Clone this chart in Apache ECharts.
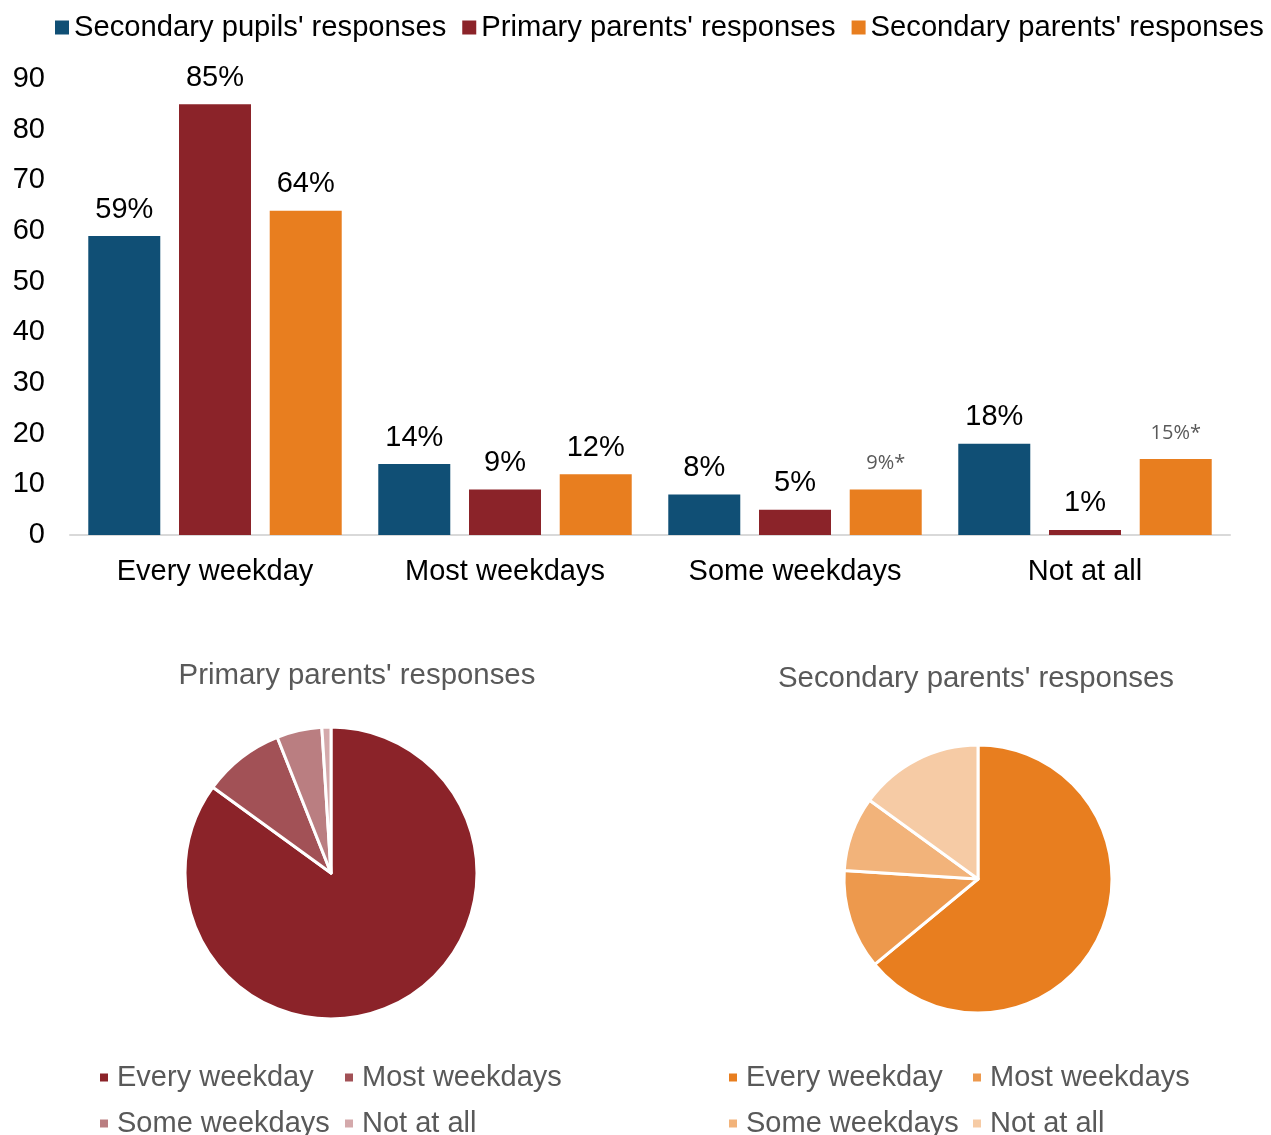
<!DOCTYPE html>
<html>
<head>
<meta charset="utf-8">
<script src="https://cdn.jsdelivr.net/npm/echarts@6/dist/echarts.min.js"></script>
<style>html,body{margin:0;padding:0;background:#fff}#c{width:1271px;height:1135px}</style>
</head>
<body>
<div id="c"></div>
<script>
const categories = ['Every weekday', 'Most weekdays', 'Some weekdays', 'Not at all'];
const seriesNames = ["Secondary pupils' responses", "Primary parents' responses", "Secondary parents' responses"];
const secondaryPupils = [59, 14, 8, 18];
const primaryParents = [85, 9, 5, 1];
const secondaryParents = [64, 12, 9, 15];
const secondaryParentsFlag = [false, false, true, true];
const yTicks = [0, 10, 20, 30, 40, 50, 60, 70, 80, 90];

const barColors = ['#104F75', '#8B2329', '#E87E1F'];
const primaryPieColors = ['#8B2329', '#A25156', '#BA7E81', '#D4A9AB'];
const secondaryPieColors = ['#E87E1F', '#ED994D', '#F2B37A', '#F6CBA5'];

const FONT = '"Liberation Sans", Arial, sans-serif';
const chart = echarts.init(document.getElementById('c'));

function barSeries(name, values, color, flags) {
  return {
    name: name, type: 'bar', barWidth: 72, barGap: '26%',
    itemStyle: { color: color },
    data: values.map((v, i) => {
      const d = { value: v };
      if (flags && flags[i]) {
        d.label = { color: '#595959', fontSize: 20, fontFamily: '"Open Sans", sans-serif', formatter: v + '%*', distance: 16 };
      }
      return d;
    }),
    label: { show: true, position: 'top', distance: 12, color: '#000', fontSize: 29, fontFamily: FONT, formatter: p => p.value + '%' }
  };
}

function pieLegends(colors, xs, rows) {
  return categories.map((c, i) => ({
    left: xs[i % 2], top: rows[Math.floor(i / 2)], padding: 0,
    icon: 'rect', itemWidth: 10, itemHeight: 10, itemGap: 0,
    textStyle: { color: '#595959', fontSize: 29, fontFamily: FONT, padding: [0, 0, 0, 3] },
    data: [{ name: c, itemStyle: { color: colors[i] } }],
    selectedMode: false
  }));
}

chart.setOption({
  animation: false,
  title: [
    { text: "Primary parents' responses", left: 357, top: 676, padding: 0, textAlign: 'center', textVerticalAlign: 'middle',
      textStyle: { color: '#595959', fontSize: 29.4, fontWeight: 'normal', fontFamily: FONT } },
    { text: "Secondary parents' responses", left: 976, top: 679, padding: 0, textAlign: 'center', textVerticalAlign: 'middle',
      textStyle: { color: '#595959', fontSize: 29.4, fontWeight: 'normal', fontFamily: FONT } }
  ],
  legend: [
    { left: 55, top: 13, width: 1216, padding: 0, icon: 'rect', itemWidth: 14, itemHeight: 14, itemGap: 16,
      textStyle: { color: '#000', fontSize: 29.2, fontFamily: FONT },
      data: seriesNames.map((n, i) => ({ name: n, itemStyle: { color: barColors[i] } })) }
  ].concat(pieLegends(primaryPieColors, [98, 343], [1063, 1109]))
   .concat(pieLegends(secondaryPieColors, [727, 971], [1063, 1109])),
  grid: { left: 70, right: 41, top: 79, height: 456 },
  xAxis: {
    type: 'category', data: categories,
    axisLine: { lineStyle: { color: '#D9D9D9', width: 2 } },
    axisTick: { show: false },
    axisLabel: { color: '#000', fontSize: 29, fontFamily: FONT, margin: 22 }
  },
  yAxis: {
    type: 'value', min: yTicks[0], max: yTicks[yTicks.length - 1], interval: 10,
    splitLine: { show: false }, axisLine: { show: false }, axisTick: { show: false },
    axisLabel: { color: '#000', fontSize: 29, fontFamily: FONT, margin: 25 }
  },
  series: [
    barSeries(seriesNames[0], secondaryPupils, barColors[0]),
    barSeries(seriesNames[1], primaryParents, barColors[1]),
    barSeries(seriesNames[2], secondaryParents, barColors[2], secondaryParentsFlag),
    {
      type: 'pie', name: "Primary parents' responses", center: [331, 873], radius: 146,
      startAngle: 90, clockwise: true, label: { show: false }, labelLine: { show: false },
      itemStyle: { borderColor: '#fff', borderWidth: 3 },
      data: categories.map((c, i) => ({ name: c, value: primaryParents[i], itemStyle: { color: primaryPieColors[i] } }))
    },
    {
      type: 'pie', name: "Secondary parents' responses", center: [978, 879], radius: 134,
      startAngle: 90, clockwise: true, label: { show: false }, labelLine: { show: false },
      itemStyle: { borderColor: '#fff', borderWidth: 3 },
      data: categories.map((c, i) => ({ name: c, value: secondaryParents[i], itemStyle: { color: secondaryPieColors[i] } }))
    }
  ]
});
</script>
</body>
</html>
